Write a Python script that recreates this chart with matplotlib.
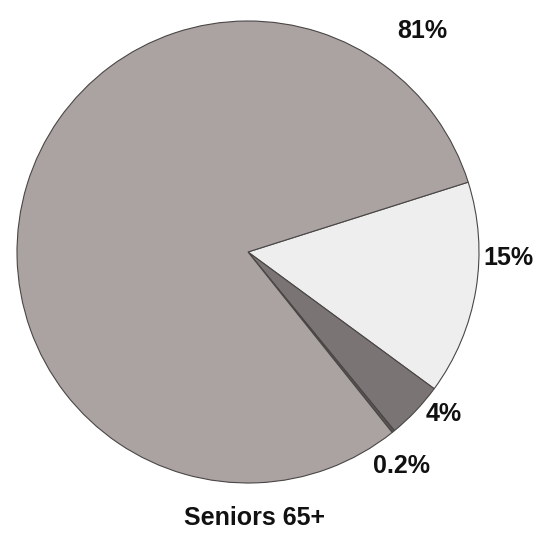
import numpy as np
import matplotlib
matplotlib.use("Agg")
import matplotlib.pyplot as plt

# Share of seniors (65+) by category, in percent
values = [15, 4, 0.2, 81]
labels = ["15%", "4%", "0.2%", "81%"]
colors = ["#efeeee", "#7b7474", "#5a5454", "#aaa3a1"]
title = "Seniors 65+"

W, H = 538, 533
fig = plt.figure(figsize=(W / 100, H / 100), dpi=100)
ax = fig.add_axes([0, 0, 1, 1])

cx, cy, R = 248, H - 252, 231
ax.pie(values, colors=colors, startangle=17.6, counterclock=False,
       center=(cx, cy), radius=R, frame=True,
       wedgeprops=dict(edgecolor="#4a4646", linewidth=0.8))
ax.set_xlim(0, W)
ax.set_ylim(0, H)
ax.set_aspect("equal")
ax.axis("off")

# label placement: (angle in degrees, distance in radii)
label_pos = [(-1.3, 1.127), (-39.7, 1.10), (-54.3, 1.14), (51.8, 1.22)]
for lab, (ang, dist) in zip(labels, label_pos):
    a = np.deg2rad(ang)
    ax.text(cx + dist * R * np.cos(a), cy + dist * R * np.sin(a), lab,
            ha="center", va="center", fontsize=18, fontweight="bold",
            family="Liberation Sans", color="#111111")

ax.text(254, H - 518, title, ha="center", va="center", fontsize=18,
        fontweight="bold", family="Liberation Sans", color="#111111")

fig.savefig("out.png", dpi=100, facecolor="white")
